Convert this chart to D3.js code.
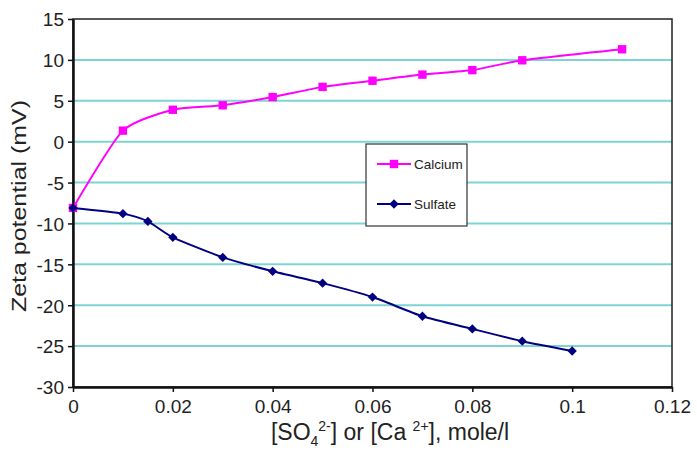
<!DOCTYPE html>
<html>
<head>
<meta charset="utf-8">
<script src="https://cdn.jsdelivr.net/npm/d3@7"></script>
<style>
    body { margin: 0; background: #fff; }
    svg { font-family: "Liberation Sans", Arial, sans-serif; }
</style>
</head>
<body>
<div id="chart"></div>
<script>
// concentrations (mole/l) and zeta potentials (mV)
const calciumX = [0, 0.01, 0.02, 0.03, 0.04, 0.05, 0.06, 0.07, 0.08, 0.09, 0.11];
const calciumY = [-8.1, 1.35, 3.9, 4.45, 5.45, 6.7, 7.45, 8.2, 8.75, 9.95, 11.3];
const sulfateX = [0, 0.01, 0.015, 0.02, 0.03, 0.04, 0.05, 0.06, 0.07, 0.08, 0.09, 0.1];
const sulfateY = [-8.1, -8.8, -9.75, -11.7, -14.15, -15.85, -17.3, -19.0, -21.35, -22.9, -24.4, -25.6];
const xTicks = [0, 0.02, 0.04, 0.06, 0.08, 0.1, 0.12];
const yTicks = [15, 10, 5, 0, -5, -10, -15, -20, -25, -30];

const W = 697, H = 451;
const margin = { top: 19, right: 25, bottom: 64, left: 73 };
const width = W - margin.left - margin.right;
const height = H - margin.top - margin.bottom;

const svg = d3.select("#chart").append("svg")
    .attr("width", W)
    .attr("height", H);

const g = svg.append("g")
    .attr("transform", `translate(${margin.left}, ${margin.top})`);

const xScale = d3.scaleLinear().domain([0, 0.12]).range([0, width]);
const yScale = d3.scaleLinear().domain([-30, 15]).range([height, 0]);

// grid
g.append("g")
    .selectAll("line")
    .data(yTicks.filter(d => d > -30 && d < 15))
    .enter()
    .append("line")
    .attr("x1", 0)
    .attr("x2", width)
    .attr("y1", d => yScale(d))
    .attr("y2", d => yScale(d))
    .attr("stroke", "#7fd3d3")
    .attr("stroke-width", 2);

// frame (top/right)
g.append("rect")
    .attr("width", width)
    .attr("height", height)
    .attr("fill", "none")
    .attr("stroke", "#222")
    .attr("stroke-width", 1.5);

const xAxis = g.append("g")
    .attr("transform", `translate(0, ${height})`)
    .call(d3.axisBottom(xScale).tickValues(xTicks).tickSize(5).tickSizeOuter(0)
        .tickFormat(d => String(+d.toFixed(2))));
const yAxis = g.append("g")
    .call(d3.axisLeft(yScale).tickValues(yTicks).tickSize(5).tickSizeOuter(0)
        .tickFormat(d => String(d)));

[xAxis, yAxis].forEach(a => {
    a.select(".domain").attr("stroke", "#111").attr("stroke-width", 2.5);
    a.selectAll(".tick line").attr("stroke", "#111").attr("stroke-width", 1.5);
    a.selectAll("text").attr("fill", "#222").style("font-size", "19px");
});
xAxis.selectAll("text").attr("dy", "0.95em");
yAxis.selectAll("text").attr("x", -9).attr("dy", "0.36em");

const line = d3.line()
    .x(d => xScale(d[0]))
    .y(d => yScale(d[1]))
    .curve(d3.curveCardinal.tension(0.4));

const series = [
    { name: "Calcium", color: "#ff00ff", shape: d3.symbolSquare, size: 70,
      pts: calciumX.map((x, i) => [x, calciumY[i]]) },
    { name: "Sulfate", color: "#000080", shape: d3.symbolDiamond2, size: 55,
      pts: sulfateX.map((x, i) => [x, sulfateY[i]]) }
];

series.forEach(s => {
    g.append("path")
        .datum(s.pts)
        .attr("d", line)
        .attr("fill", "none")
        .attr("stroke", s.color)
        .attr("stroke-width", 2);
    g.selectAll(null)
        .data(s.pts)
        .enter()
        .append("path")
        .attr("d", d3.symbol().type(s.shape).size(s.size))
        .attr("transform", d => `translate(${xScale(d[0])}, ${yScale(d[1])})`)
        .attr("fill", s.color);
});

// legend
const legend = svg.append("g").attr("transform", "translate(366, 144)");
legend.append("rect")
    .attr("width", 101)
    .attr("height", 82)
    .attr("fill", "#fff")
    .attr("stroke", "#333")
    .attr("stroke-width", 1.2);
series.forEach((s, i) => {
    const ly = 20 + i * 40;
    legend.append("line")
        .attr("x1", 11).attr("x2", 45)
        .attr("y1", ly).attr("y2", ly)
        .attr("stroke", s.color).attr("stroke-width", 2);
    legend.append("path")
        .attr("d", d3.symbol().type(s.shape).size(s.size))
        .attr("transform", `translate(28, ${ly})`)
        .attr("fill", s.color);
    legend.append("text")
        .attr("x", 48)
        .attr("y", ly + 5)
        .style("font-size", "13.5px")
        .attr("fill", "#222")
        .text(s.name);
});

// axis titles
svg.append("text")
    .attr("transform", `translate(26, 206) rotate(-90)`)
    .attr("text-anchor", "middle")
    .style("font-size", "20px")
    .attr("textLength", 212)
    .attr("lengthAdjust", "spacingAndGlyphs")
    .attr("fill", "#222")
    .text("Zeta potential (mV)");

const xt = svg.append("text")
    .attr("x", 390)
    .attr("y", 440)
    .attr("text-anchor", "middle")
    .style("font-size", "23px")
    .attr("fill", "#222");
xt.append("tspan").text("[SO");
xt.append("tspan").attr("dy", 6).style("font-size", "14px").text("4");
xt.append("tspan").attr("dy", -15).style("font-size", "14px").text("2-");
xt.append("tspan").attr("dy", 9).text("] or [Ca ");
xt.append("tspan").attr("dy", -9).style("font-size", "14px").text("2+");
xt.append("tspan").attr("dy", 9).text("], mole/l");
</script>
</body>
</html>
